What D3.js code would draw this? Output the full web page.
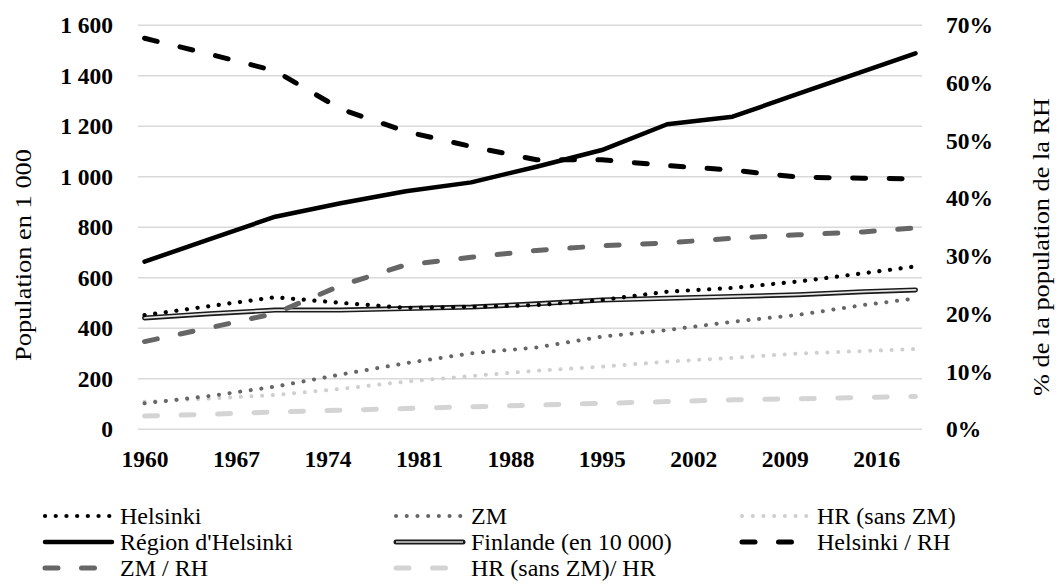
<!DOCTYPE html>
<html>
<head>
<meta charset="utf-8">
<script src="https://cdn.jsdelivr.net/npm/d3@7"></script>
<style>
  body { margin: 0; background: #fff; }
  svg { display: block; }
  text { font-family: "Liberation Serif", "Times New Roman", serif; fill: #000; }
</style>
</head>
<body>
<svg id="chart" width="1056" height="585"></svg>
<script>
// Population of the Helsinki region (thousands) and shares of the region (%)
const years = [1960, 1965, 1970, 1975, 1980, 1985, 1990, 1995, 2000, 2005, 2010, 2015, 2019];
const helsinki = [452, 488, 523, 501, 481, 485, 492, 512, 545, 560, 585, 618, 645];
const zm = [103, 132, 169, 217, 262, 301, 324, 367, 393, 426, 453, 492, 518];
const hrSansZm = [109, 122, 136, 160, 189, 211, 232, 248, 268, 283, 300, 310, 318];
const regionHelsinki = [664, 753, 842, 895, 943, 978, 1040, 1106, 1208, 1238, 1328, 1418, 1489];
const finlande = [441, 458, 472, 472, 478, 484, 497, 512, 519, 526, 533, 545, 552];
const helsinkiShare = [67.75, 65.0, 62.1, 55.5, 51.6, 49.0, 46.7, 46.7, 45.7, 44.9, 43.7, 43.5, 43.4];
const zmShare = [15.2, 17.6, 20.1, 24.9, 28.5, 29.8, 31.0, 31.8, 32.3, 33.1, 33.7, 34.2, 34.9];
const hrShare = [2.3, 2.6, 3.0, 3.3, 3.6, 3.9, 4.2, 4.5, 4.8, 5.1, 5.3, 5.5, 5.7];

const allYears = d3.range(1960, 2020);
const yearTicks = [1960, 1967, 1974, 1981, 1988, 1995, 2002, 2009, 2016];
const leftTicks = [0, 200, 400, 600, 800, 1000, 1200, 1400, 1600];
const rightTicks = [0, 10, 20, 30, 40, 50, 60, 70];

const leftTitle = "Population en 1 000";
const rightTitle = "% de la population de la RH";

const svg = d3.select("#chart");
const plot = { left: 138, right: 922, top: 25.3, bottom: 429.3 };

const x = d3.scalePoint().domain(allYears).range([plot.left, plot.right]).padding(0.5);
const yL = d3.scaleLinear().domain([0, 1600]).range([plot.bottom, plot.top]);
const yR = d3.scaleLinear().domain([0, 70]).range([plot.bottom, plot.top]);

// horizontal gridlines
svg.append("g").selectAll("line").data(leftTicks).join("line")
  .attr("x1", plot.left).attr("x2", plot.right)
  .attr("y1", d => yL(d)).attr("y2", d => yL(d))
  .attr("stroke", "#d9d9d9").attr("stroke-width", 1.5);

// axes (thousands separated by a no-break space)
const fmtSpace = d => d3.format(",")(d).replace(/,/g, "\u00a0");
const axL = svg.append("g").attr("transform", `translate(${plot.left},0)`)
  .call(d3.axisLeft(yL).tickValues(leftTicks).tickFormat(fmtSpace).tickSize(0).tickPadding(25));
const axR = svg.append("g").attr("transform", `translate(${plot.right},0)`)
  .call(d3.axisRight(yR).tickValues(rightTicks).tickFormat(d => d + "%").tickSize(0).tickPadding(24));
const axB = svg.append("g").attr("transform", `translate(0,${plot.bottom})`)
  .call(d3.axisBottom(x).tickValues(yearTicks).tickSize(0).tickPadding(21));
[axL, axR, axB].forEach(a => {
  a.select(".domain").remove();
  a.selectAll("text").attr("font-family", "'Liberation Serif', 'Times New Roman', serif")
    .attr("font-size", 23.5).attr("font-weight", "bold").attr("fill", "#000");
});

// axis titles
svg.append("text").attr("transform", "translate(23,255) rotate(-90)")
  .attr("text-anchor", "middle").attr("dominant-baseline", "central")
  .attr("font-size", 23).attr("textLength", 212).attr("lengthAdjust", "spacingAndGlyphs")
  .text(leftTitle);
svg.append("text").attr("transform", "translate(1041,247) rotate(-90)")
  .attr("text-anchor", "middle").attr("dominant-baseline", "central")
  .attr("font-size", 23).attr("textLength", 298).attr("lengthAdjust", "spacingAndGlyphs")
  .text(rightTitle);

// series definitions
const dots = "0.1 10.6";
const dashes = "13 23.5";
const series = [
  { name: "Helsinki", values: helsinki, y: yL, color: "#000", width: 4.2, dash: dots },
  { name: "ZM", values: zm, y: yL, color: "#666", width: 4, dash: dots },
  { name: "HR (sans ZM)", values: hrSansZm, y: yL, color: "#cfcfcf", width: 4, dash: dots },
  { name: "Région d'Helsinki", values: regionHelsinki, y: yL, color: "#000", width: 4.5, dash: null },
  { name: "Finlande (en 10 000)", values: finlande, y: yL, color: "#1a1a1a", width: 5, dash: null, inner: "#e6e6e6" },
  { name: "Helsinki / RH", values: helsinkiShare, y: yR, color: "#000", width: 5, dash: dashes },
  { name: "ZM / RH", values: zmShare, y: yR, color: "#666", width: 5, dash: dashes },
  { name: "HR (sans ZM)/ HR", values: hrShare, y: yR, color: "#d4d4d4", width: 5, dash: dashes }
];

// draw order: the double line and solid line first, dotted and dashed on top
const drawOrder = [4, 3, 2, 1, 0, 7, 6, 5];
const lines = svg.append("g");
drawOrder.forEach(i => {
  const s = series[i];
  const line = d3.line().x((d, j) => x(years[j])).y(d => s.y(d));
  const p = lines.append("path").datum(s.values).attr("d", line)
    .attr("fill", "none").attr("stroke", s.color).attr("stroke-width", s.width)
    .attr("stroke-linecap", "round").attr("stroke-linejoin", "round");
  if (s.dash) p.attr("stroke-dasharray", s.dash);
  if (s.inner) {
    lines.append("path").datum(s.values).attr("d", line)
      .attr("fill", "none").attr("stroke", s.inner).attr("stroke-width", 1.8)
      .attr("stroke-linecap", "round").attr("stroke-linejoin", "round");
  }
});

// legend: three columns, three rows
const colX = [43, 394, 740];
const rowY = [516, 542, 568];
const legend = svg.append("g");
series.forEach((s, i) => {
  const cx = colX[i % 3], cy = rowY[Math.floor(i / 3)];
  const seg = legend.append("line").attr("x1", cx + 2).attr("x2", cx + 69)
    .attr("y1", cy).attr("y2", cy)
    .attr("stroke", s.color).attr("stroke-width", s.width)
    .attr("stroke-linecap", "round");
  if (s.dash) seg.attr("stroke-dasharray", s.dash);
  if (s.inner) {
    legend.append("line").attr("x1", cx + 2).attr("x2", cx + 69)
      .attr("y1", cy).attr("y2", cy)
      .attr("stroke", "#a6a6a6").attr("stroke-width", 1.8);
  }
  legend.append("text").attr("x", cx + 77).attr("y", cy)
    .attr("dominant-baseline", "central").attr("font-size", 24)
    .text(s.name);
});
</script>
</body>
</html>
